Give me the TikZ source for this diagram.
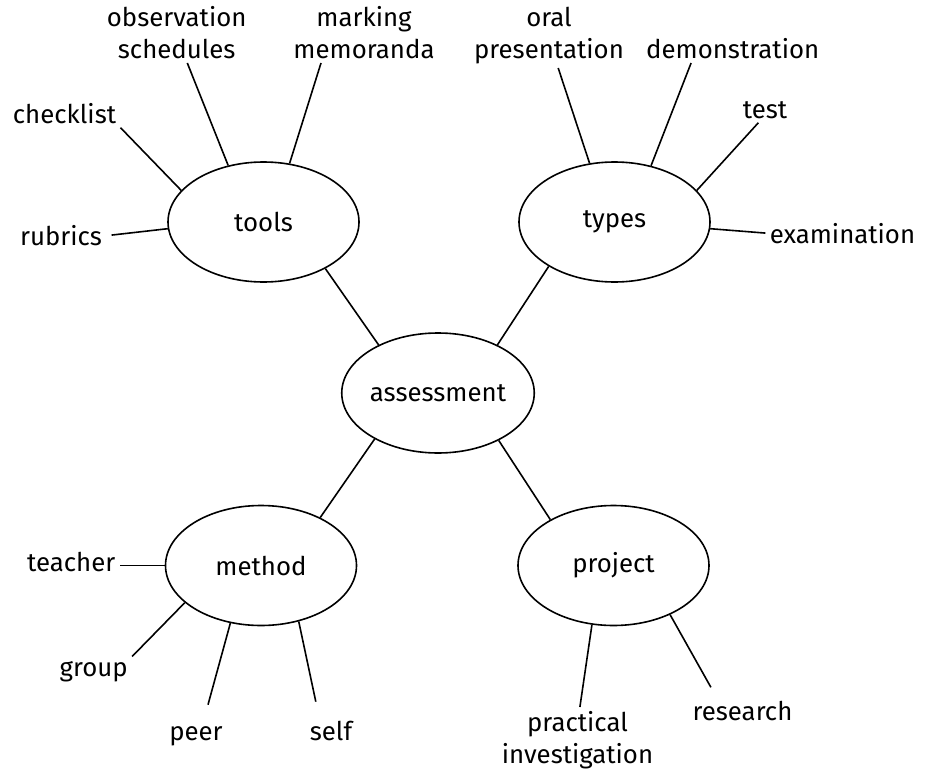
\documentclass[tikz,border=0pt]{standalone}
\usepackage{fontspec}
\setmainfont{Fira Sans}
\usetikzlibrary{shapes.geometric}

\begin{document}
\begin{tikzpicture}[
    x=0.5pt, y=-0.5pt,
    every node/.style={font=\fontsize{12.9}{15.8}\selectfont},
    topic/.style={draw, ellipse, line width=0.8pt, inner sep=0pt, minimum width=95.5pt, minimum height=60pt},
    leaf/.style={inner sep=2pt, align=center},
    link/.style={line width=0.8pt}
  ]
    \useasboundingbox (0,0) rectangle (927,776);

    \node[topic] (assess) at (438,393) {assessment};
    \node[topic] (tools) at (263.5,222) {tools};
    \node[topic] (types) at (614.5,222) {types};
    \node[topic] (method) at (261,565.5) {method};
    \node[topic] (project) at (613.5,565.5) {project};

    \node[leaf, anchor=base] (checklist) at (64.5,123) {checklist};
    \node[leaf, anchor=base] (rubrics) at (61,245) {rubrics};
    \node[leaf, anchor=south] (observe) at (176.7,63) {observation\\schedules};
    \node[leaf, anchor=south] (marking) at (364,63) {marking\\memoranda};

    \node[leaf, anchor=south] (oral) at (549,68) {oral\\presentation};
    \node[leaf, anchor=south] (demo) at (732.7,63) {demonstration};
    \node[leaf, anchor=base] (test) at (765,118) {test};
    \node[leaf, anchor=base] (exam) at (842.5,243) {examination};

    \node[leaf, anchor=base] (teacher) at (71.2,571.5) {teacher};
    \node[leaf, anchor=base] (group) at (93.7,676) {group};
    \node[leaf, anchor=base] (peer) at (196,740) {peer};
    \node[leaf, anchor=base] (self) at (331,740) {self};

    \node[leaf, anchor=north] (practical) at (577.5,707) {practical\\investigation};
    \node[leaf, anchor=base] (research) at (742.5,720) {research};

    \draw[link] (assess.141) -- (tools.-37);
    \draw[link] (assess.39) -- (types.214);
    \draw[link] (assess.216) -- (method.39);
    \draw[link] (assess.-38) -- (project.144);

    \draw[link] (tools.159) -- (checklist.south east);
    \draw[link] (tools.184) -- ([xshift=2.6pt]rubrics.east);
    \draw[link] (tools.122) -- ([xshift=5.3pt]observe.south);
    \draw[link] (tools.66) -- ([xshift=-21.5pt]marking.south);

    \draw[link] (types.113) -- ([xshift=4.6pt]oral.south);
    \draw[link] (types.57) -- ([xshift=-20.8pt]demo.south);
    \draw[link] (types.21) -- ([xshift=-3.3pt]test.south);
    \draw[link] (types.-4) -- (exam.west);

    \draw[link] (method.west) -- (teacher.east |- method.west);
    \draw[link] (method.206) -- (group.north east);
    \draw[link] (method.242) -- ([xshift=6pt,yshift=8.5pt]peer.north);
    \draw[link] (method.304) -- ([xshift=-7.6pt,yshift=7.3pt]self.north);

    \draw[link] (project.250) -- ([xshift=1.2pt]practical.north);
    \draw[link] (project.319) -- ([xshift=-15.8pt,yshift=4.5pt]research.north);
  \end{tikzpicture}
\end{document}
